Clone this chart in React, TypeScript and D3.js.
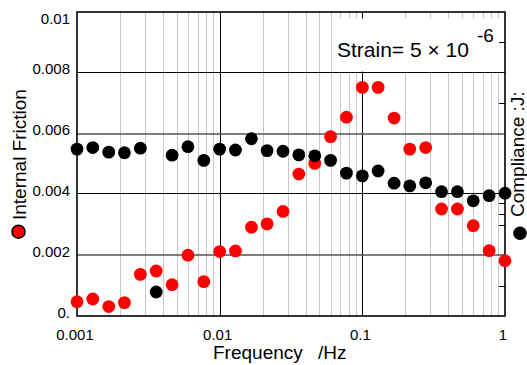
import React from 'react';
import * as d3 from 'd3';

// Measurement frequencies (Hz), nine per decade
const frequencies = [
  0.001, 0.00129, 0.00167, 0.00215, 0.00278, 0.00359, 0.00464, 0.00599, 0.00774,
  0.01, 0.0129, 0.0167, 0.0215, 0.0278, 0.0359, 0.0464, 0.0599, 0.0774,
  0.1, 0.129, 0.167, 0.215, 0.278, 0.359, 0.464, 0.599, 0.774, 1.0,
];

// Internal friction (left axis)
const internalFriction = [
  0.00047, 0.00056, 0.00031, 0.00044, 0.00137, 0.00148, 0.00103, 0.002, 0.00113,
  0.00212, 0.00214, 0.00292, 0.00303, 0.00344, 0.00467, 0.00502, 0.0059, 0.00654,
  0.00752, 0.00752, 0.00651, 0.00549, 0.00554, 0.00352, 0.00352, 0.00297, 0.00215, 0.00182,
];

// Compliance (right axis, relative units)
const compliance = [
  0.549, 0.554, 0.539, 0.537, 0.552, 0.079, 0.529, 0.557, 0.512,
  0.549, 0.546, 0.583, 0.544, 0.542, 0.53, 0.527, 0.512, 0.47,
  0.461, 0.477, 0.437, 0.428, 0.438, 0.409, 0.409, 0.379, 0.396, 0.404,
];

const xTickValues = [0.001, 0.01, 0.1, 1];
const xTickLabels = ['0.001', '0.01', '0.1', '1'];
const yTickValues = [0, 0.002, 0.004, 0.006, 0.008, 0.01];
const yTickLabels = ['0.', '0.002', '0.004', '0.006', '0.008', '0.01'];
const complianceTicks = [0.1, 0.3, 0.336, 0.372, 0.7, 0.9];

const W = 527;
const H = 365;
const plot = { left: 77, right: 505, top: 12, bottom: 316 };
const font = "'Liberation Sans', Arial, sans-serif";

export default function App() {
  const x = d3.scaleLog().domain([0.001, 1]).range([plot.left, plot.right]);
  const y = d3.scaleLinear().domain([0, 0.01]).range([plot.bottom, plot.top]);
  const yc = d3.scaleLinear().domain([0, 1]).range([plot.bottom, plot.top]);

  const allTicks = x.ticks();
  const minor = allTicks.filter((t) => {
    const l = Math.log10(t);
    return Math.abs(l - Math.round(l)) > 1e-6;
  });
  const innerMajor = xTickValues.slice(1, -1);
  const innerY = yTickValues.slice(1, -1);

  const r = 6.4;

  return (
    <svg
      width={W}
      height={H}
      style={{ position: 'absolute', left: 0, top: 0, background: '#fff' }}
      fontFamily={font}
    >
      <rect x={0} y={0} width={W} height={H} fill="#fff" />

      {/* minor vertical grid */}
      {minor.map((t, i) => (
        <line key={'mg' + i} x1={Math.round(x(t)) + 0.5} x2={Math.round(x(t)) + 0.5}
          y1={plot.top} y2={plot.bottom} stroke="#c8c8c8" strokeWidth={1} />
      ))}
      {/* decade lines */}
      {innerMajor.map((t, i) => (
        <line key={'Mg' + i} x1={Math.round(x(t)) + 0.5} x2={Math.round(x(t)) + 0.5}
          y1={plot.top} y2={plot.bottom} stroke="#000" strokeWidth={1} />
      ))}
      {/* horizontal grid */}
      {innerY.map((v, i) => (
        <line key={'hg' + i} x1={plot.left} x2={plot.right}
          y1={i % 2 === 0 ? Math.round(y(v)) : Math.round(y(v)) - 0.5}
          y2={i % 2 === 0 ? Math.round(y(v)) : Math.round(y(v)) - 0.5}
          stroke={i % 2 === 0 ? '#555' : '#000'} strokeWidth={i % 2 === 0 ? 1.4 : 1} />
      ))}

      {/* annotation box */}
      <rect x={333} y={18.5} width={171} height={53} fill="#fff" />
      <text x={337} y={57} fontSize={21} fill="#000">
        Strain= 5 × 10
      </text>
      <text x={477} y={42} fontSize={19} fill="#000">-6</text>

      {/* compliance axis ticks */}
      {complianceTicks.map((v, i) => (
        <line key={'ct' + i} x1={plot.right - 6} x2={plot.right}
          y1={Math.round(yc(v)) + 0.5} y2={Math.round(yc(v)) + 0.5} stroke="#000" strokeWidth={1} />
      ))}

      {/* frame */}
      <rect x={plot.left} y={plot.top} width={plot.right - plot.left}
        height={plot.bottom - plot.top} fill="none" stroke="#000" strokeWidth={1.6} />

      {/* internal friction points */}
      {frequencies.map((f, i) => (
        <circle key={'r' + i} cx={x(f)} cy={y(internalFriction[i])} r={r} fill="#ff0000" />
      ))}
      {/* compliance points */}
      {frequencies.map((f, i) => (
        <circle key={'b' + i} cx={x(f)} cy={yc(compliance[i])} r={r} fill="#000" />
      ))}

      {/* y tick labels */}
      {yTickValues.map((v, i) => (
        <text key={'yl' + i} x={70} y={Math.max(y(v) - 4, 18)} fontSize={15}
          textAnchor="end" dominantBaseline="central" fill="#000">
          {yTickLabels[i]}
        </text>
      ))}
      {/* x tick labels */}
      {xTickValues.map((v, i) => (
        <text key={'xl' + i} x={x(v) - 2} y={340} fontSize={15} textAnchor="middle" fill="#000">
          {xTickLabels[i]}
        </text>
      ))}

      {/* axis titles */}
      <text x={213} y={359} fontSize={19} fill="#000">Frequency</text>
      <text x={318} y={359} fontSize={19} fill="#000">/Hz</text>

      <g transform="translate(26,220) rotate(-90)">
        <text x={0} y={0} fontSize={19} fill="#000">Internal Friction</text>
      </g>
      <circle cx={18.5} cy={231.7} r={6.5} fill="#ff0000" stroke="#000" strokeWidth={1.5} />

      <g transform="translate(524,217) rotate(-90)">
        <text x={0} y={0} fontSize={19} fill="#000">Compliance :J:</text>
      </g>
      <circle cx={520} cy={233.3} r={6.8} fill="#000" />
    </svg>
  );
}
